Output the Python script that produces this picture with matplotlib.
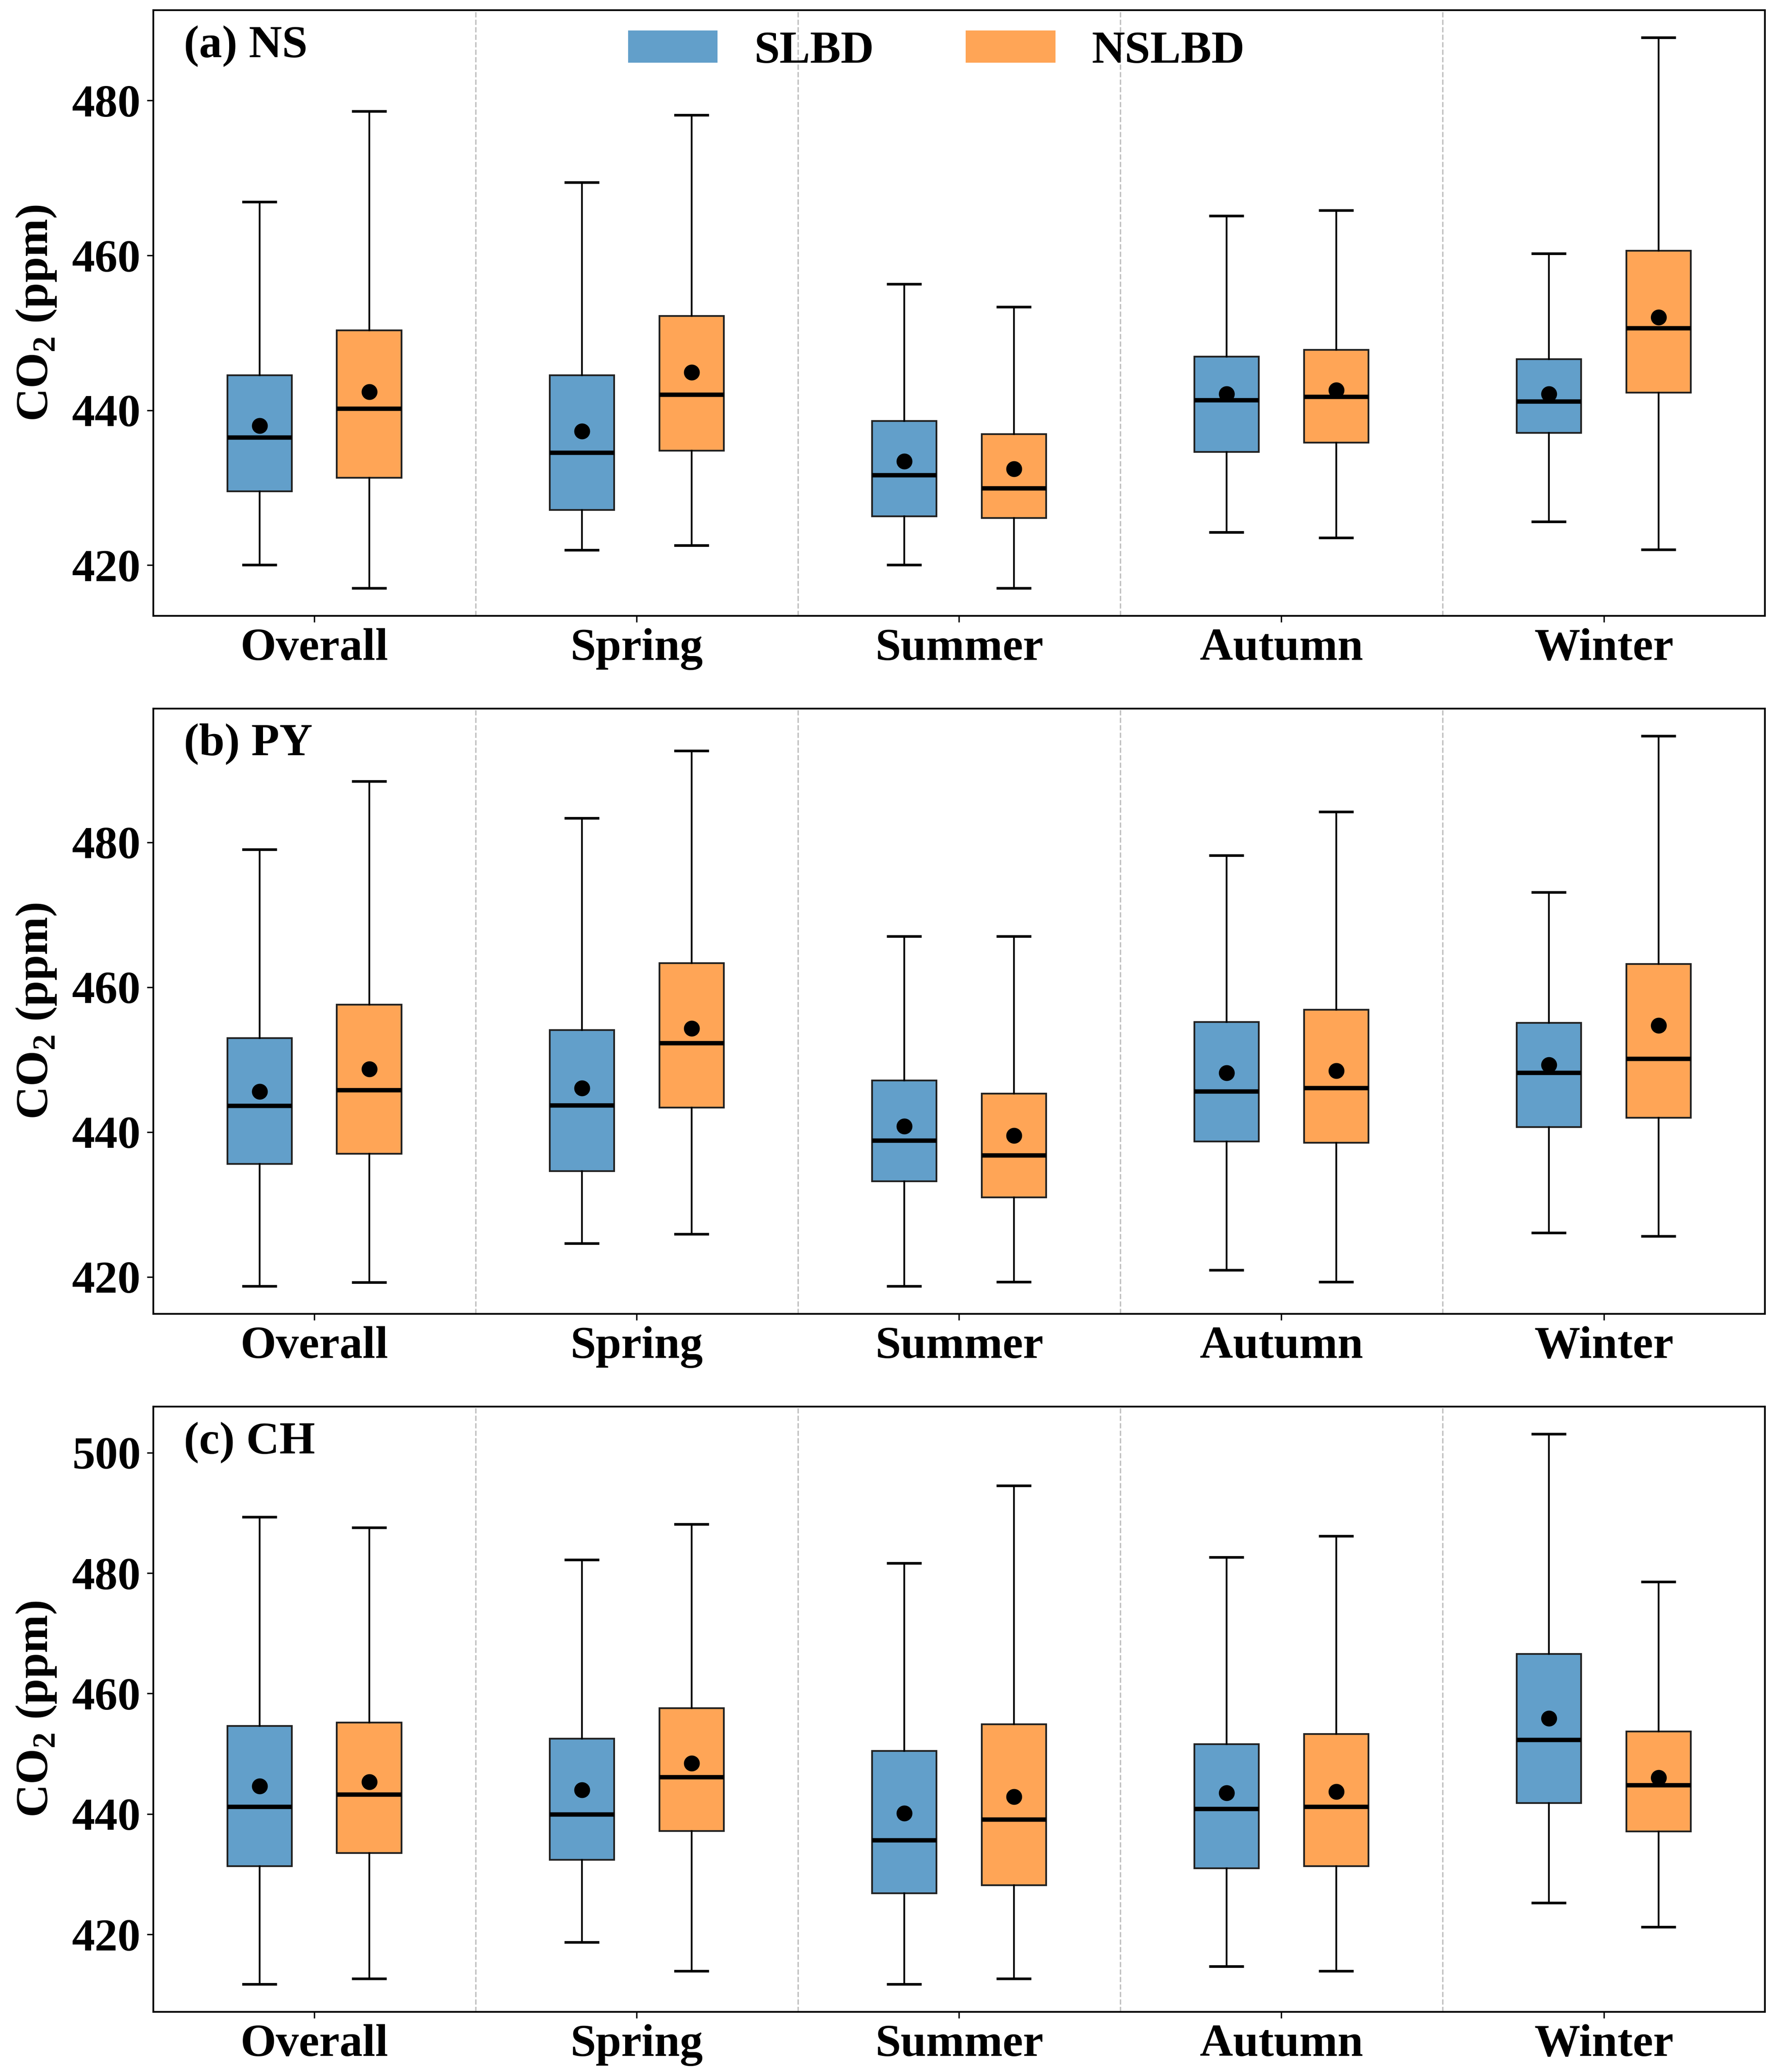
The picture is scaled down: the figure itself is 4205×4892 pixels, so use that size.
import numpy as np
import matplotlib.pyplot as plt
from matplotlib.colors import to_rgba
from matplotlib.patches import Patch
from matplotlib.ticker import MultipleLocator

plt.rcParams['font.family'] = ['Liberation Serif', 'DejaVu Serif']
plt.rcParams['font.weight'] = 'bold'
plt.rcParams['mathtext.fontset'] = 'custom'
plt.rcParams['mathtext.rm'] = 'Liberation Serif:bold'
plt.rcParams['mathtext.bf'] = 'Liberation Serif:bold'

seasons = ['Overall', 'Spring', 'Summer', 'Autumn', 'Winter']
groups = ['SLBD', 'NSLBD']
colors = ['#1f77b4', '#ff7f0e']
panel_labels = ['(a) NS', '(b) PY', '(c) CH']

# each row: whisker low, Q1, median, Q3, whisker high, mean
ns_slbd = [[420.0, 429.5, 436.5, 444.5, 466.9, 438.0],
           [421.9, 427.1, 434.5, 444.5, 469.4, 437.3],
           [420.0, 426.3, 431.6, 438.6, 456.3, 433.4],
           [424.2, 434.6, 441.3, 446.9, 465.1, 442.1],
           [425.6, 437.1, 441.1, 446.6, 460.2, 442.1]]
ns_nslbd = [[417.0, 431.3, 440.2, 450.3, 478.6, 442.4],
            [422.5, 434.8, 442.0, 452.2, 478.1, 444.9],
            [417.0, 426.1, 429.9, 436.9, 453.3, 432.4],
            [423.5, 435.8, 441.7, 447.8, 465.8, 442.6],
            [422.0, 442.3, 450.6, 460.6, 488.1, 452.0]]

py_slbd = [[418.7, 435.6, 443.6, 453.0, 479.0, 445.6],
           [424.6, 434.6, 443.7, 454.1, 483.3, 446.1],
           [418.7, 433.2, 438.8, 447.1, 467.0, 440.8],
           [420.9, 438.7, 445.6, 455.2, 478.2, 448.2],
           [426.1, 440.7, 448.2, 455.1, 473.1, 449.3]]
py_nslbd = [[419.2, 437.0, 445.8, 457.6, 488.4, 448.7],
            [425.9, 443.4, 452.3, 463.3, 492.6, 454.3],
            [419.3, 431.0, 436.8, 445.3, 467.0, 439.5],
            [419.3, 438.5, 446.1, 456.9, 484.2, 448.5],
            [425.6, 442.0, 450.1, 463.2, 494.7, 454.7]]

ch_slbd = [[411.7, 431.3, 441.2, 454.6, 489.3, 444.6],
           [418.7, 432.4, 439.9, 452.5, 482.2, 444.0],
           [411.7, 426.8, 435.6, 450.5, 481.6, 440.1],
           [414.7, 431.0, 440.8, 451.6, 482.6, 443.5],
           [425.2, 441.8, 452.3, 466.6, 503.1, 455.9]]
ch_nslbd = [[412.6, 433.5, 443.2, 455.2, 487.5, 445.3],
            [413.9, 437.2, 446.1, 457.6, 488.1, 448.4],
            [412.6, 428.2, 439.1, 454.9, 494.5, 442.9],
            [413.9, 431.3, 441.2, 453.3, 486.1, 443.7],
            [421.2, 437.1, 444.8, 453.7, 478.5, 446.0]]

panels = [(ns_slbd, ns_nslbd), (py_slbd, py_nslbd), (ch_slbd, ch_nslbd)]


def make_stats(rows):
    return [dict(whislo=r[0], q1=r[1], med=r[2], q3=r[3], whishi=r[4], mean=r[5])
            for r in rows]


fig, axes = plt.subplots(3, 1, figsize=(4205 / 300, 4892 / 300), dpi=300)
fig.subplots_adjust(left=0.086, right=0.991, top=0.995, bottom=0.029, hspace=0.153)

x = np.arange(len(seasons))
offsets = [-0.17, 0.17]

for ax, label, data in zip(axes, panel_labels, panels):
    for rows, color, off in zip(data, colors, offsets):
        ax.bxp(make_stats(rows), positions=x + off, widths=0.2,
               patch_artist=True, showmeans=True, showfliers=False,
               manage_ticks=False,
               boxprops=dict(facecolor=to_rgba(color, 0.7), edgecolor='#222222', linewidth=1.0),
               medianprops=dict(color='black', linewidth=2.5),
               meanprops=dict(marker='o', markerfacecolor='black',
                              markeredgecolor='black', markersize=8),
               whiskerprops=dict(color='black', linewidth=1.0),
               capprops=dict(color='black', linewidth=1.5))

    for b in x[:-1] + 0.5:
        ax.axvline(b, color='#c0c0c0', linestyle='--', linewidth=0.8, zorder=0)

    ax.set_xlim(-0.5, 4.5)
    ax.set_xticks(x, seasons)
    ax.yaxis.set_major_locator(MultipleLocator(20))
    ax.tick_params(axis='both', labelsize=26)
    ax.set_ylabel('CO$_2$ (ppm)', fontsize=26, fontweight='bold', labelpad=8)
    ax.text(0.019, 0.975, label, transform=ax.transAxes, fontsize=26,
            fontweight='bold', va='top', ha='left')
    for s in ax.spines.values():
        s.set_linewidth(1.0)

handles = [Patch(facecolor=to_rgba(c, 0.7), edgecolor='none') for c in colors]
axes[0].legend(handles, groups, loc='upper center', bbox_to_anchor=(0.486, 1.035),
               ncol=2, frameon=False, fontsize=26, columnspacing=2.0,
               handlelength=1.95, handletextpad=0.8)

fig.savefig('out.png', dpi=300)
